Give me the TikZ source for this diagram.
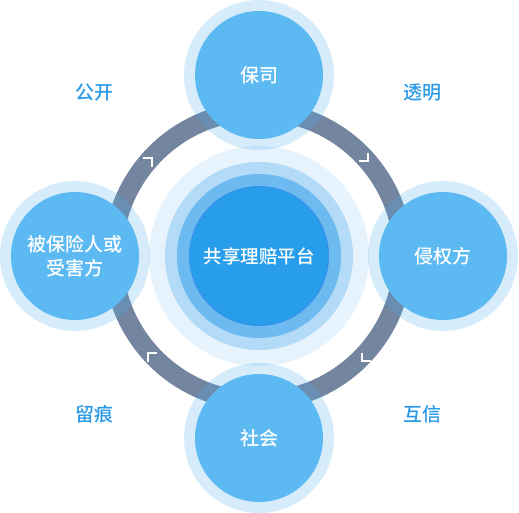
\documentclass[tikz,border=0pt]{standalone}
\usepackage{fontspec}
\setmainfont{Noto Sans CJK SC}
\IfFontExistsTF{Noto Sans CJK SC Medium}
  {\newfontfamily\medfont{Noto Sans CJK SC Medium}}
  {\newfontfamily\medfont{Noto Sans CJK SC}[FakeBold=1.2]}
\definecolor{satblue}{HTML}{5DB9F2}
\definecolor{halob}{RGB}{77,172,238}
\definecolor{ringc}{HTML}{7485A0}
\definecolor{lblblue}{HTML}{2A9AE6}
\definecolor{cA}{HTML}{E6F3FD}
\definecolor{cB}{HTML}{B3DBF8}
\definecolor{cC}{HTML}{6DBAF1}
\definecolor{cD}{HTML}{279DEB}
\definecolor{cDe}{HTML}{3A90E8}
\newcommand{\satfont}{\medfont\fontsize{19}{24}\selectfont}
\newcommand{\lblfont}{\medfont\fontsize{19}{24}\selectfont}
\tikzset{
  sat/.style={circle, fill=satblue, minimum size=128pt, inner sep=0pt, text=white, font=\satfont, align=center},
  halo/.style={circle, fill=halob, fill opacity=0.23, minimum size=150pt, inner sep=0pt},
  lbl/.style={text=lblblue, font=\lblfont, inner sep=0pt},
  cornermark/.style={draw=white, line width=1.8pt},
  disc/.style={circle, inner sep=0pt},
}
\begin{document}
\begin{tikzpicture}[x=1pt,y=-1pt]
\useasboundingbox (0,0) rectangle (519,513);
% central stacked discs
\node[disc, fill=cA, minimum size=220pt] (c1) at (259,256) {};
\node[disc, fill=cB, minimum size=188pt] (c2) at (259,256) {};
\node[disc, fill=cC, minimum size=164pt] (c3) at (259,256) {};
\node[disc, fill=cD, draw=cDe, line width=1pt, minimum size=139pt] (c4) at (259,256) {};
% ring
\draw[ringc, line width=19pt] (258,256) circle[radius=145];
% corner marks
\draw[cornermark] (143,158) -- (152,158) -- (152,167);
\draw[cornermark] (368,153) -- (368,161) -- (359,161);
\draw[cornermark] (148,362) -- (148,353) -- (157,353);
\draw[cornermark] (362,353) -- (362,361) -- (371,361);
% halos
\node[halo] (ht) at (259,75) {};
\node[halo] (hb) at (259,438) {};
\node[halo] (hl) at (75,256) {};
\node[halo] (hr) at (443,256) {};
% satellites
\node[sat] (top) at (259,75) {保司};
\node[sat] (bottom) at (259,438) {社会};
\node[sat] (left) at (75,256) {被保险人或\\受害方};
\node[sat] (right) at (443,256) {侵权方};
% center text
\node[text=white, font=\medfont\fontsize{18.5}{22}\selectfont] (ctext) at (259,256) {共享理赔平台};
% labels
\node[lbl] (l1) at (94,92) {公开};
\node[lbl] (l2) at (422,92) {透明};
\node[lbl] (l3) at (94,414) {留痕};
\node[lbl] (l4) at (422,414) {互信};
\end{tikzpicture}
\end{document}
